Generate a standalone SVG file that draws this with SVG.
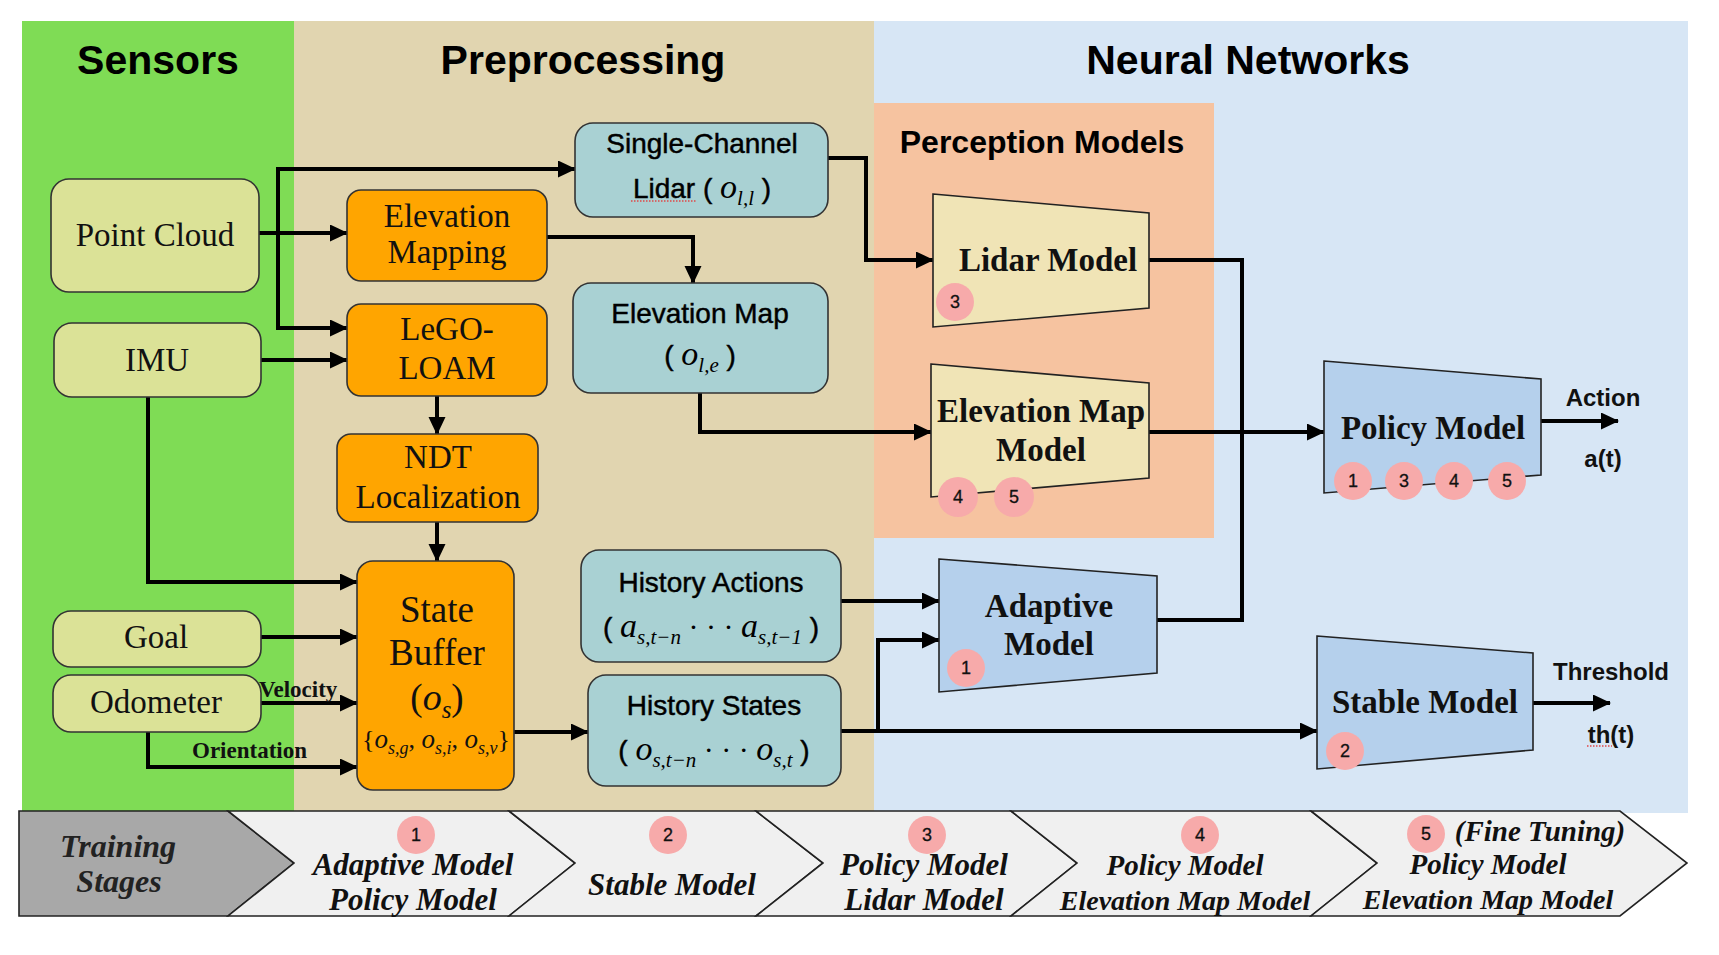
<svg xmlns="http://www.w3.org/2000/svg" width="1719" height="955" viewBox="0 0 1719 955">
<defs>
<marker id="ah" markerUnits="userSpaceOnUse" markerWidth="18" markerHeight="18" refX="17" refY="8.5" orient="auto">
<path d="M0,0 L18,8.5 L0,17 z" fill="#000"/>
</marker>
<style>
.hdr{font-family:"Liberation Sans",Arial,sans-serif;font-weight:bold;font-size:41px;text-anchor:middle;fill:#000}
.sub-hdr{font-family:"Liberation Sans",Arial,sans-serif;font-weight:bold;font-size:32px;text-anchor:middle;fill:#000}
.sensor{fill:#DBE297;stroke:#333;stroke-width:1.6}
.orange{fill:#FFA500;stroke:#333;stroke-width:1.6}
.teal{fill:#A9D1D3;stroke:#333;stroke-width:1.6}
.perc{fill:#F0E4B6;stroke:#222;stroke-width:1.6}
.nn{fill:#B5D0EC;stroke:#222;stroke-width:1.6}
.badge{fill:#F7AAAA}
.bt{font-family:"Liberation Sans",Arial,sans-serif;font-size:18px;text-anchor:middle;fill:#111;stroke:#111;stroke-width:0.3}
.tr{font-family:"Liberation Serif","Times New Roman",serif;font-size:33px;text-anchor:middle;fill:#111}
.trb{font-family:"Liberation Serif","Times New Roman",serif;font-size:33px;font-weight:bold;text-anchor:middle;fill:#111}
.lbl{font-family:"Liberation Serif","Times New Roman",serif;font-size:23px;font-weight:bold;fill:#111}
.sans{font-family:"Liberation Sans",Arial,sans-serif;font-size:28px;text-anchor:middle;fill:#000;stroke:#000;stroke-width:0.45}
.sansb{font-family:"Liberation Sans",Arial,sans-serif;font-size:24px;font-weight:bold;text-anchor:middle;fill:#111}
.mi{font-family:"Liberation Serif","Times New Roman",serif;font-style:italic;font-size:34px;stroke-width:0}
.sb{font-family:"Liberation Serif","Times New Roman",serif;font-style:italic;font-size:21px;stroke-width:0}
.mr{font-family:"Liberation Serif","Times New Roman",serif;font-size:30px;stroke-width:0}
.chev{fill:#F0F0F0;stroke:#222;stroke-width:1.6}
.chev1{fill:#A8A8A8;stroke:#222;stroke-width:1.6}
.ct{font-family:"Liberation Serif","Times New Roman",serif;font-style:italic;font-weight:bold;font-size:31px;text-anchor:middle;fill:#111}
.ct2{font-family:"Liberation Serif","Times New Roman",serif;font-style:italic;font-weight:bold;font-size:28px;text-anchor:middle;fill:#111}
.conn path{fill:none;stroke:#000;stroke-width:4}
.spell{stroke:#E04848;stroke-width:1.5;stroke-dasharray:1.5 1.5;fill:none}
</style>
</defs>
<rect x="0" y="0" width="1719" height="955" fill="#FFFFFF"/>
<!-- backgrounds -->
<g id="backgrounds">
<rect x="22" y="21" width="272" height="793" fill="#7FDC55"/>
<rect x="294" y="21" width="580" height="793" fill="#E1D5B0"/>
<rect x="874" y="21" width="814" height="792" fill="#D7E6F5"/>
<rect x="874" y="103" width="340" height="435" fill="#F6C3A0"/>
<text class="hdr" x="158" y="74">Sensors</text>
<text class="hdr" x="583" y="74">Preprocessing</text>
<text class="hdr" x="1248" y="74">Neural Networks</text>
<text class="sub-hdr" x="1042" y="153">Perception Models</text>
</g>
<!-- connectors -->
<g id="connectors" class="conn">
<path d="M259,233 H347" marker-end="url(#ah)"/>
<path d="M278,330 V169 H575" marker-end="url(#ah)"/>
<path d="M276,328 H347" marker-end="url(#ah)"/>
<path d="M261,360 H347" marker-end="url(#ah)"/>
<path d="M547,237 H693 V283" marker-end="url(#ah)"/>
<path d="M437,396 V434" marker-end="url(#ah)"/>
<path d="M437,522 V561" marker-end="url(#ah)"/>
<path d="M148,397 V582 H357" marker-end="url(#ah)"/>
<path d="M261,637 H357" marker-end="url(#ah)"/>
<path d="M261,703 H357" marker-end="url(#ah)"/>
<path d="M148,732 V767 H357" marker-end="url(#ah)"/>
<path d="M828,158 H866 V260 H933" marker-end="url(#ah)"/>
<path d="M700,393 V432 H931" marker-end="url(#ah)"/>
<path d="M514,732 H588" marker-end="url(#ah)"/>
<path d="M841,601 H939" marker-end="url(#ah)"/>
<path d="M841,731 H1317" marker-end="url(#ah)"/>
<path d="M878,733 V640 H939" marker-end="url(#ah)"/>
<path d="M1149,260 H1242 V620 H1157"/>
<path d="M1149,432 H1324" marker-end="url(#ah)"/>
<path d="M1541,421 H1618" marker-end="url(#ah)"/>
<path d="M1533,703 H1610" marker-end="url(#ah)"/>
</g>
<g id="edge-labels">
<text class="lbl" x="259" y="697">Velocity</text>
<text class="lbl" x="192" y="758">Orientation</text>
<text class="sansb" x="1603" y="406">Action</text>
<text class="sansb" x="1603" y="467">a(t)</text>
<text class="sansb" x="1611" y="680">Threshold</text>
<text class="sansb" x="1611" y="743">th(t)</text>
<path class="spell" d="M1587,746 H1612"/>
</g>
<!-- sensor nodes -->
<g id="point-cloud">
<rect class="sensor" x="51" y="179" width="208" height="113" rx="18"/>
<text class="tr" x="155" y="246">Point Cloud</text>
</g>
<g id="imu">
<rect class="sensor" x="54" y="323" width="207" height="74" rx="18"/>
<text class="tr" x="157" y="371">IMU</text>
</g>
<g id="goal">
<rect class="sensor" x="53" y="611" width="208" height="56" rx="18"/>
<text class="tr" x="156" y="648">Goal</text>
</g>
<g id="odometer">
<rect class="sensor" x="53" y="675" width="208" height="57" rx="18"/>
<text class="tr" x="156" y="713">Odometer</text>
</g>
<!-- preprocessing -->
<g id="elevation-mapping">
<rect class="orange" x="347" y="190" width="200" height="91" rx="14"/>
<text class="tr" x="447" y="227">Elevation</text>
<text class="tr" x="447" y="263">Mapping</text>
</g>
<g id="lego-loam">
<rect class="orange" x="347" y="304" width="200" height="92" rx="14"/>
<text class="tr" x="447" y="340">LeGO-</text>
<text class="tr" x="447" y="379">LOAM</text>
</g>
<g id="ndt-localization">
<rect class="orange" x="337" y="434" width="201" height="88" rx="14"/>
<text class="tr" x="438" y="468">NDT</text>
<text class="tr" x="438" y="508">Localization</text>
</g>
<g id="state-buffer">
<rect class="orange" x="357" y="561" width="157" height="229" rx="16"/>
<text class="tr" x="437" y="622" style="font-size:37px">State</text>
<text class="tr" x="437" y="665" style="font-size:37px">Buffer</text>
<text class="tr" x="437" y="710" style="font-size:37px">(<tspan class="mi" style="font-size:38px">o</tspan><tspan class="sb" style="font-size:25px" dy="8">s</tspan><tspan dy="-8">)</tspan></text>
<text class="tr" x="436" y="748" style="font-size:26px">{<tspan class="mi" style="font-size:27px">o</tspan><tspan class="sb" style="font-size:18px" dy="6">s,g</tspan><tspan dy="-6">, </tspan><tspan class="mi" style="font-size:27px">o</tspan><tspan class="sb" style="font-size:18px" dy="6">s,i</tspan><tspan dy="-6">, </tspan><tspan class="mi" style="font-size:27px">o</tspan><tspan class="sb" style="font-size:18px" dy="6">s,v</tspan><tspan dy="-6">}</tspan></text>
</g>
<g id="single-channel-lidar">
<rect class="teal" x="575" y="123" width="253" height="94" rx="18"/>
<text class="sans" x="702" y="153">Single-Channel</text>
<text class="sans" x="702" y="198">Lidar ( <tspan class="mi">o</tspan><tspan class="sb" dy="7">l,l</tspan><tspan dy="-7"> )</tspan></text>
<path class="spell" d="M631,201 H697"/>
</g>
<g id="elevation-map">
<rect class="teal" x="573" y="283" width="255" height="110" rx="18"/>
<text class="sans" x="700" y="323">Elevation Map</text>
<text class="sans" x="700" y="365">( <tspan class="mi">o</tspan><tspan class="sb" dy="7">l,e</tspan><tspan dy="-7"> )</tspan></text>
</g>
<g id="history-actions">
<rect class="teal" x="581" y="550" width="260" height="112" rx="18"/>
<text class="sans" x="711" y="592">History Actions</text>
<text class="sans" x="711" y="637">( <tspan class="mi">a</tspan><tspan class="sb" dy="7">s,t−n</tspan><tspan class="mr" dy="-7"> · · · </tspan><tspan class="mi">a</tspan><tspan class="sb" dy="7">s,t−1</tspan><tspan dy="-7"> )</tspan></text>
</g>
<g id="history-states">
<rect class="teal" x="588" y="675" width="253" height="111" rx="18"/>
<text class="sans" x="714" y="715">History States</text>
<text class="sans" x="714" y="760">( <tspan class="mi">o</tspan><tspan class="sb" dy="7">s,t−n</tspan><tspan class="mr" dy="-7"> · · · </tspan><tspan class="mi">o</tspan><tspan class="sb" dy="7">s,t</tspan><tspan dy="-7"> )</tspan></text>
</g>
<!-- neural network nodes -->
<g id="lidar-model">
<polygon class="perc" points="933,194 1149,213 1149,308 933,327"/>
<text class="trb" x="1048" y="271">Lidar Model</text>
<circle class="badge" cx="955" cy="302" r="19"/>
<text class="bt" x="955" y="308">3</text>
</g>
<g id="elevation-map-model">
<polygon class="perc" points="931,364 1149,383 1149,478 931,497"/>
<text class="trb" x="1041" y="422">Elevation Map</text>
<text class="trb" x="1041" y="461">Model</text>
<circle class="badge" cx="958" cy="497" r="20"/>
<text class="bt" x="958" y="503">4</text>
<circle class="badge" cx="1014" cy="497" r="20"/>
<text class="bt" x="1014" y="503">5</text>
</g>
<g id="adaptive-model">
<polygon class="nn" points="939,559 1157,576 1157,673 939,692"/>
<text class="trb" x="1049" y="617">Adaptive</text>
<text class="trb" x="1049" y="655">Model</text>
<circle class="badge" cx="966" cy="668" r="19"/>
<text class="bt" x="966" y="674">1</text>
</g>
<g id="policy-model">
<polygon class="nn" points="1324,361 1541,379 1541,475 1324,493"/>
<text class="trb" x="1433" y="439">Policy Model</text>
<circle class="badge" cx="1353" cy="481" r="19"/>
<text class="bt" x="1353" y="487">1</text>
<circle class="badge" cx="1404" cy="481" r="19"/>
<text class="bt" x="1404" y="487">3</text>
<circle class="badge" cx="1454" cy="481" r="19"/>
<text class="bt" x="1454" y="487">4</text>
<circle class="badge" cx="1507" cy="481" r="19"/>
<text class="bt" x="1507" y="487">5</text>
</g>
<g id="stable-model">
<polygon class="nn" points="1317,636 1533,653 1533,750 1317,769"/>
<text class="trb" x="1425" y="713">Stable Model</text>
<circle class="badge" cx="1345" cy="751" r="19"/>
<text class="bt" x="1345" y="757">2</text>
</g>
<!-- training stages -->
<g id="stage-label">
<polygon class="chev1" points="19,811 228,811 294,863 228,916 19,916"/>
<text class="ct" x="118" y="857" style="fill:#222;font-size:32px">Training</text>
<text class="ct" x="119" y="892" style="fill:#222;font-size:32px">Stages</text>
</g>
<g id="stage-1">
<polygon class="chev" points="228,811 509,811 575,863 509,916 228,916 294,863"/>
<circle class="badge" cx="416" cy="835" r="19"/>
<text class="bt" x="416" y="841">1</text>
<text class="ct" x="413" y="875">Adaptive Model</text>
<text class="ct" x="413" y="910">Policy Model</text>
</g>
<g id="stage-2">
<polygon class="chev" points="509,811 756,811 823,863 756,916 509,916 575,863"/>
<circle class="badge" cx="668" cy="835" r="19"/>
<text class="bt" x="668" y="841">2</text>
<text class="ct" x="672" y="895">Stable Model</text>
</g>
<g id="stage-3">
<polygon class="chev" points="756,811 1011,811 1077,863 1011,916 756,916 823,863"/>
<circle class="badge" cx="927" cy="835" r="19"/>
<text class="bt" x="927" y="841">3</text>
<text class="ct" x="924" y="875">Policy Model</text>
<text class="ct" x="924" y="910">Lidar Model</text>
</g>
<g id="stage-4">
<polygon class="chev" points="1011,811 1311,811 1377,863 1311,916 1011,916 1077,863"/>
<circle class="badge" cx="1200" cy="835" r="19"/>
<text class="bt" x="1200" y="841">4</text>
<text class="ct2" x="1185" y="875" style="font-size:29px">Policy Model</text>
<text class="ct2" x="1185" y="910">Elevation Map Model</text>
</g>
<g id="stage-5">
<polygon class="chev" points="1311,811 1620,811 1687,863 1620,916 1311,916 1377,863"/>
<circle class="badge" cx="1426" cy="834" r="19"/>
<text class="bt" x="1426" y="840">5</text>
<text class="ct2" x="1540" y="841" style="font-size:29px">(Fine Tuning)</text>
<text class="ct2" x="1488" y="874" style="font-size:29px">Policy Model</text>
<text class="ct2" x="1488" y="909">Elevation Map Model</text>
</g>
</svg>
